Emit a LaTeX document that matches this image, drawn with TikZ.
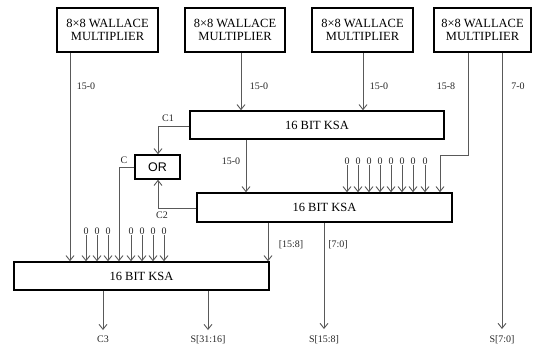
\documentclass[tikz,border=0pt]{standalone}
\usepackage{fontspec}
\setmainfont{Liberation Serif}
\newfontfamily\orfont{Liberation Sans}
\usetikzlibrary{arrows.meta}
\begin{document}
\begin{tikzpicture}[x=1pt,y=-1pt,
 box/.style={draw=black,line width=1.5pt,fill=white,inner sep=0pt,font=\fontsize{12.5}{13}\selectfont,align=center},
 arr/.style={draw=black!65,line width=0.9pt,-{Straight Barb[length=5pt,width=8pt]}},
 ln/.style={draw=black!65,line width=0.9pt},
 lab/.style={font=\fontsize{10}{11}\selectfont,inner sep=0pt,text=black!85},
 zero/.style={font=\fontsize{10}{11}\selectfont,inner sep=0.5pt,text=black!85}]
\useasboundingbox (0,0) rectangle (533,346);
% multipliers
\node[box,minimum width=101pt,minimum height=44pt] (w1) at (107.5,30) {8\texttimes8 WALLACE\\MULTIPLIER};
\node[box,minimum width=100pt,minimum height=44pt] (w2) at (235,30) {8\texttimes8 WALLACE\\MULTIPLIER};
\node[box,minimum width=101pt,minimum height=44pt] (w3) at (362.5,30) {8\texttimes8 WALLACE\\MULTIPLIER};
\node[box,minimum width=97pt,minimum height=44pt] (w4) at (482.5,30) {8\texttimes8 WALLACE\\MULTIPLIER};
% adders
\node[box,minimum width=254pt,minimum height=28pt] (k1) at (317,125) {16 BIT KSA};
\node[box,minimum width=255pt,minimum height=29pt] (k2) at (324.5,207.5) {16 BIT KSA};
\node[box,minimum width=255pt,minimum height=28pt] (k3) at (141.5,276) {16 BIT KSA};
\node[box,minimum width=45pt,minimum height=24pt,font=\orfont\fontsize{12.5}{13}\selectfont] (or) at (157.5,167) {OR};
% multiplier outputs
\draw[arr] (w1.south -| 70,0) -- (k3.north -| 70,0);
\draw[arr] (w2.south -| 241,0) -- (k1.north -| 241,0);
\draw[arr] (w3.south -| 363,0) -- (k1.north -| 363,0);
\coordinate (bend) at (468,155);
\draw[arr] (w4.south -| bend) -- (bend) -| (k2.north -| 440,0);
\coordinate (s70) at (502,329);
\draw[arr] (w4.south -| s70) -- (s70);
\node[lab] (l1) at (86,86) {15-0};
\node[lab] (l2) at (259,86) {15-0};
\node[lab] (l3) at (379,86) {15-0};
\node[lab] (l4) at (446,86) {15-8};
\node[lab] (l5) at (518,86) {7-0};
% carries
\coordinate (c1c) at (158,126);
\draw[arr] (k1.west |- c1c) -| (or.north -| c1c);
\node[lab] (lc1) at (168,118) {C1};
\coordinate (c2c) at (158,208);
\draw[arr] (k2.west |- c2c) -| (or.south -| c2c);
\node[lab] (lc2) at (162,215.5) {C2};
\coordinate (cc) at (119,167);
\draw[arr] (or.west |- cc) -| (k3.north -| cc);
\node[lab] (lcc) at (124,160) {C};
% ksa1 -> ksa2
\draw[arr] (k1.south -| 246,0) -- (k2.north -| 246,0);
\node[lab] (l6) at (231,161) {15-0};
% zeros into ksa2
\foreach \i/\x in {1/347,2/358,3/369,4/380,5/391,6/402,7/413,8/425}{
  \node[zero] (za\i) at (\x,161) {0};
  \draw[arr] (za\i.south) -- (k2.north -| za\i);
}
% zeros into ksa3
\foreach \i/\x in {1/86,2/97,3/108,4/131,5/142,6/153,7/164}{
  \node[zero] (zb\i) at (\x,231) {0};
  \draw[arr] (zb\i.south) -- (k3.north -| zb\i);
}
% ksa2 outputs
\draw[arr] (k2.south -| 268,0) -- (k3.north -| 268,0);
\coordinate (s158) at (324,329);
\draw[arr] (k2.south -| s158) -- (s158);
\node[lab] (l7) at (291,245) {[15:8]};
\node[lab] (l8) at (338,245) {[7:0]};
% ksa3 outputs
\coordinate (c3e) at (103,330);
\draw[arr] (k3.south -| c3e) -- (c3e);
\coordinate (s3116) at (208,330);
\draw[arr] (k3.south -| s3116) -- (s3116);
% bottom labels
\node[lab,anchor=base] (o1) at (103,342.5) {C3};
\node[lab,anchor=base] (o2) at (208,342.5) {S[31:16]};
\node[lab,anchor=base] (o3) at (324,342.5) {S[15:8]};
\node[lab,anchor=base] (o4) at (502,342.5) {S[7:0]};
\end{tikzpicture}
\end{document}
